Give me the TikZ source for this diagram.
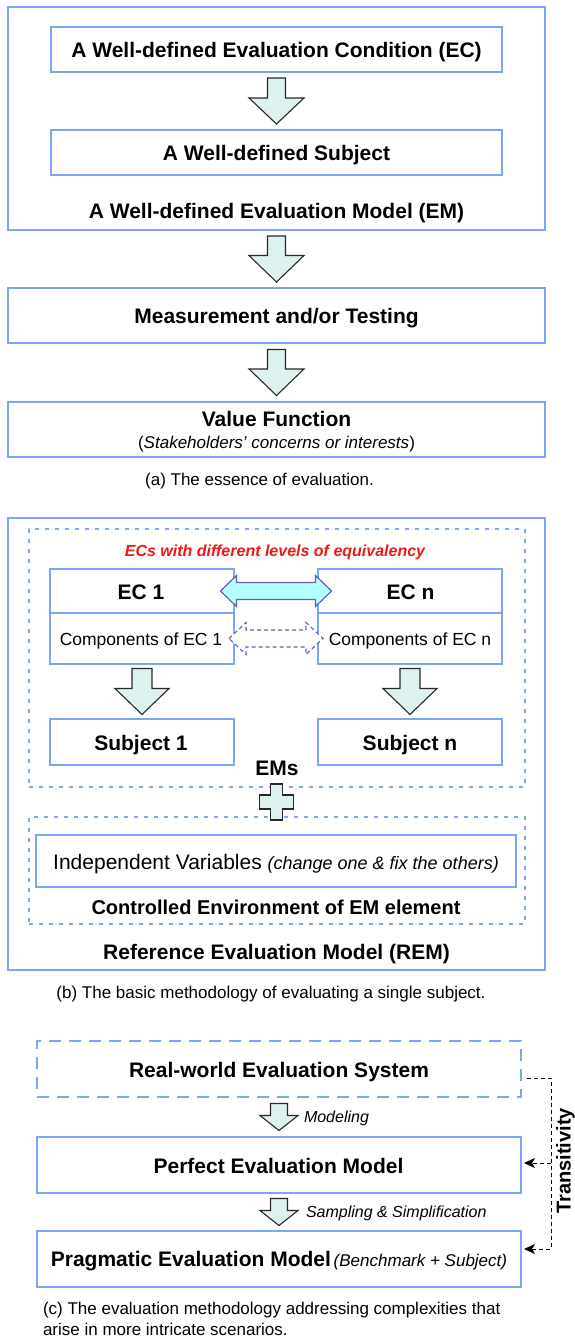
\documentclass[tikz,border=0pt]{standalone}
\usepackage{fontspec}
\setmainfont{Liberation Sans}
\usetikzlibrary{calc,arrows.meta}

\definecolor{boxblue}{RGB}{126,166,248}
\definecolor{arrowfill}{RGB}{221,242,239}
\definecolor{arrowline}{RGB}{40,40,40}
\definecolor{eqfill}{RGB}{180,255,255}
\definecolor{eqline}{RGB}{100,92,196}
\definecolor{hired}{RGB}{238,24,24}

% downward block arrow between two nodes:
% #1 source, #2 target, #3 gap, #4 shaft half width, #5 head half width, #6 head length
\newcommand\fatdown[6]{%
  \path[fatarrow] let \p1=(#1.south), \p2=(#2.north) in
    (\x1-#4pt,\y1-#3pt) -- (\x1+#4pt,\y1-#3pt)
    -- (\x1+#4pt,\y2+#3pt+#6pt) -- (\x1+#5pt,\y2+#3pt+#6pt)
    -- (\x1,\y2+#3pt)
    -- (\x1-#5pt,\y2+#3pt+#6pt) -- (\x1-#4pt,\y2+#3pt+#6pt) -- cycle;}

% two-headed horizontal block arrow between two nodes:
% #1 left node, #2 right node, #3 overlap into the boxes, #4 shaft half width,
% #5 head half width, #6 head length, #7 style
\newcommand\fatboth[7]{%
  \path[#7] let \p1=(#1.east), \p2=(#2.west) in
    (\x1-#3pt,\y1) -- (\x1-#3pt+#6pt,\y1+#5pt) -- (\x1-#3pt+#6pt,\y1+#4pt)
    -- (\x2+#3pt-#6pt,\y1+#4pt) -- (\x2+#3pt-#6pt,\y1+#5pt) -- (\x2+#3pt,\y1)
    -- (\x2+#3pt-#6pt,\y1-#5pt) -- (\x2+#3pt-#6pt,\y1-#4pt)
    -- (\x1-#3pt+#6pt,\y1-#4pt) -- (\x1-#3pt+#6pt,\y1-#5pt) -- cycle;}

\begin{document}
\begin{tikzpicture}[x=1pt,y=-1pt,
  box/.style={draw=boxblue, line width=2pt, rectangle, inner sep=0pt, outer sep=0pt},
  dotbox/.style={box, dash pattern=on 4pt off 6pt},
  dashbox/.style={box, dash pattern=on 12pt off 8pt},
  fatarrow/.style={fill=arrowfill, draw=arrowline, line width=1.1pt, line join=miter},
  eqsolid/.style={fill=eqfill, draw=eqline, line width=1.2pt, line join=miter},
  eqdashed/.style={fill=white, draw=eqline, line width=1.1pt, dash pattern=on 4pt off 3pt},
  txt/.style={anchor=base, inner sep=0pt, outer sep=0pt},
  btxt/.style={txt, font=\fontsize{21}{25}\selectfont\bfseries},
  rtxt/.style={txt, font=\fontsize{17}{21}\selectfont},
  trans/.style={draw=black, line width=1pt, dash pattern=on 4pt off 3pt},
  tip/.style={-{Stealth[length=11pt,width=10pt,inset=3pt]}}]

\useasboundingbox (0,0) rectangle (575,1339);
\fill[white] (0,0) rectangle (575,1339);

% ---------- (a) the essence of evaluation ----------
\node[box, minimum width=537pt, minimum height=223pt] (emOuter) at (276.5,118.5) {};
\node[box, minimum width=451pt, minimum height=45pt] (ecBox) at (276.5,49.5) {};
\node[box, minimum width=451pt, minimum height=45pt] (subjBox) at (276.5,152.5) {};
\node[box, minimum width=537pt, minimum height=55pt] (measBox) at (276.5,315.5) {};
\node[box, minimum width=537pt, minimum height=55pt] (valBox) at (276.5,429.5) {};

\node[btxt] (ecText) at (276.5,57) {A Well-defined Evaluation Condition (EC)};
\node[btxt] (subjText) at (276.5,160) {A Well-defined Subject};
\node[btxt] (emText) at (276.5,218.5) {A Well-defined Evaluation Model (EM)};
\node[btxt] (measText) at (276.5,323.5) {Measurement and/or Testing};
\node[btxt] (valText) at (276.5,426.5) {Value Function};
\node[rtxt] (valSub) at (276.5,448) {(\textit{Stakeholders’ concerns or interests})};
\node[rtxt] (capA) at (259.5,485) {(a) The essence of evaluation.};

\fatdown{ecBox}{subjBox}{6}{9}{27.5}{26}
\fatdown{emOuter}{measBox}{6}{9}{27.5}{26.5}
\fatdown{measBox}{valBox}{6.5}{9}{27.5}{26.5}

% ---------- (b) evaluating a single subject ----------
\node[box, minimum width=537pt, minimum height=452pt] (remOuter) at (276.5,744) {};
\node[dotbox, minimum width=496pt, minimum height=258pt] (emsDot) at (277,658) {};
\node[dotbox, minimum width=496pt, minimum height=107pt] (envDot) at (277,870.5) {};

\node[box, minimum width=184pt, minimum height=44pt] (ecOneTop) at (142,591) {};
\node[box, minimum width=184pt, minimum height=51pt] (ecOneBot) at (142,638.5) {};
\node[box, minimum width=184pt, minimum height=44pt] (ecNTop) at (410,591) {};
\node[box, minimum width=184pt, minimum height=51pt] (ecNBot) at (410,638.5) {};
\node[box, minimum width=184pt, minimum height=46pt] (subjOne) at (142,742) {};
\node[box, minimum width=184pt, minimum height=46pt] (subjN) at (410,742) {};
\node[box, minimum width=480pt, minimum height=52pt] (indepBox) at (276,861) {};

\node[txt, font=\fontsize{16}{20}\selectfont\bfseries\itshape, text=hired] (eqText) at (275,556.5)
  {ECs with different levels of equivalency};
\node[btxt] (ecOneText) at (141,599) {EC 1};
\node[btxt] (ecNText) at (410.5,599) {EC n};
\node[txt, font=\fontsize{17.5}{21}\selectfont] (compOne) at (141,645) {Components of EC 1};
\node[txt, font=\fontsize{17.5}{21}\selectfont] (compN) at (410,645) {Components of EC n};
\node[btxt] (subjOneText) at (141,750) {Subject 1};
\node[btxt] (subjNText) at (410,750) {Subject n};
\node[btxt] (emsText) at (277,775) {EMs};
\node[txt] (indepText) at (276,869)
  {{\fontsize{21}{25}\selectfont Independent Variables\ }%
   {\fontsize{18}{22}\selectfont\itshape (change one \& fix the others)}};
\node[txt, font=\fontsize{20}{24}\selectfont\bfseries] (envText) at (276,914)
  {Controlled Environment of EM element};
\node[btxt] (remText) at (276.5,959) {Reference Evaluation Model (REM)};
\node[rtxt] (capB) at (271,998) {(b) The basic methodology of evaluating a single subject.};

\fatboth{ecOneTop}{ecNTop}{13.5}{8.5}{15.5}{16}{eqsolid}
\fatboth{ecOneBot}{ecNBot}{5}{8.5}{16}{17}{eqdashed}
\fatdown{ecOneBot}{subjOne}{4.5}{10}{27}{26}
\fatdown{ecNBot}{subjN}{4.5}{10}{27}{26}

% plus sign joining the two dotted groups
\coordinate (plusC) at (276.5,802);
\path[fatarrow] (plusC) ++(-6,-18) -- ++(12,0) -- ++(0,11) -- ++(11,0) -- ++(0,14)
  -- ++(-11,0) -- ++(0,11) -- ++(-12,0) -- ++(0,-11) -- ++(-11,0) -- ++(0,-14)
  -- ++(11,0) -- cycle;

% ---------- (c) more intricate scenarios ----------
\node[dashbox, minimum width=484pt, minimum height=56pt] (rwBox) at (279,1069) {};
\node[box, minimum width=484pt, minimum height=56pt] (perfBox) at (279,1165) {};
\node[box, minimum width=484pt, minimum height=56pt] (pragBox) at (279,1259) {};

\node[btxt] (rwText) at (279,1077) {Real-world Evaluation System};
\node[btxt] (perfText) at (278.5,1173) {Perfect Evaluation Model};
\node[txt] (pragText) at (279,1266.5)
  {{\fontsize{21}{25}\selectfont\bfseries Pragmatic Evaluation Model}
   {\fontsize{17}{21}\selectfont\itshape (Benchmark + Subject)}};
\node[txt, anchor=base west, font=\fontsize{16}{20}\selectfont\itshape] (modText) at (304,1122) {Modeling};
\node[txt, anchor=base west, font=\fontsize{16}{20}\selectfont\itshape] (sampText) at (306,1217)
  {Sampling \& Simplification};
\node[rtxt, anchor=base west] (capCa) at (43,1314)
  {(c) The evaluation methodology addressing complexities that};
\node[rtxt, anchor=base west] (capCb) at (43,1335) {arise in more intricate scenarios.};

\fatdown{rwBox}{perfBox}{6.5}{8.5}{19}{15}
\fatdown{perfBox}{pragBox}{5.5}{8.5}{19}{15}

% transitivity link
\coordinate (trA) at (527,1078);
\coordinate (trB) at (551,1163);
\draw[trans, tip] (trA) -- (trA -| trB) |- ($(pragBox.east)+(3,-10)$);
\draw[trans, tip] (trB) -- ($(perfBox.east)+(3,-2)$);
\node[txt, rotate=90, font=\fontsize{20}{24}\selectfont\bfseries] (transText) at (570.5,1161)
  {Transitivity};

\end{tikzpicture}
\end{document}
